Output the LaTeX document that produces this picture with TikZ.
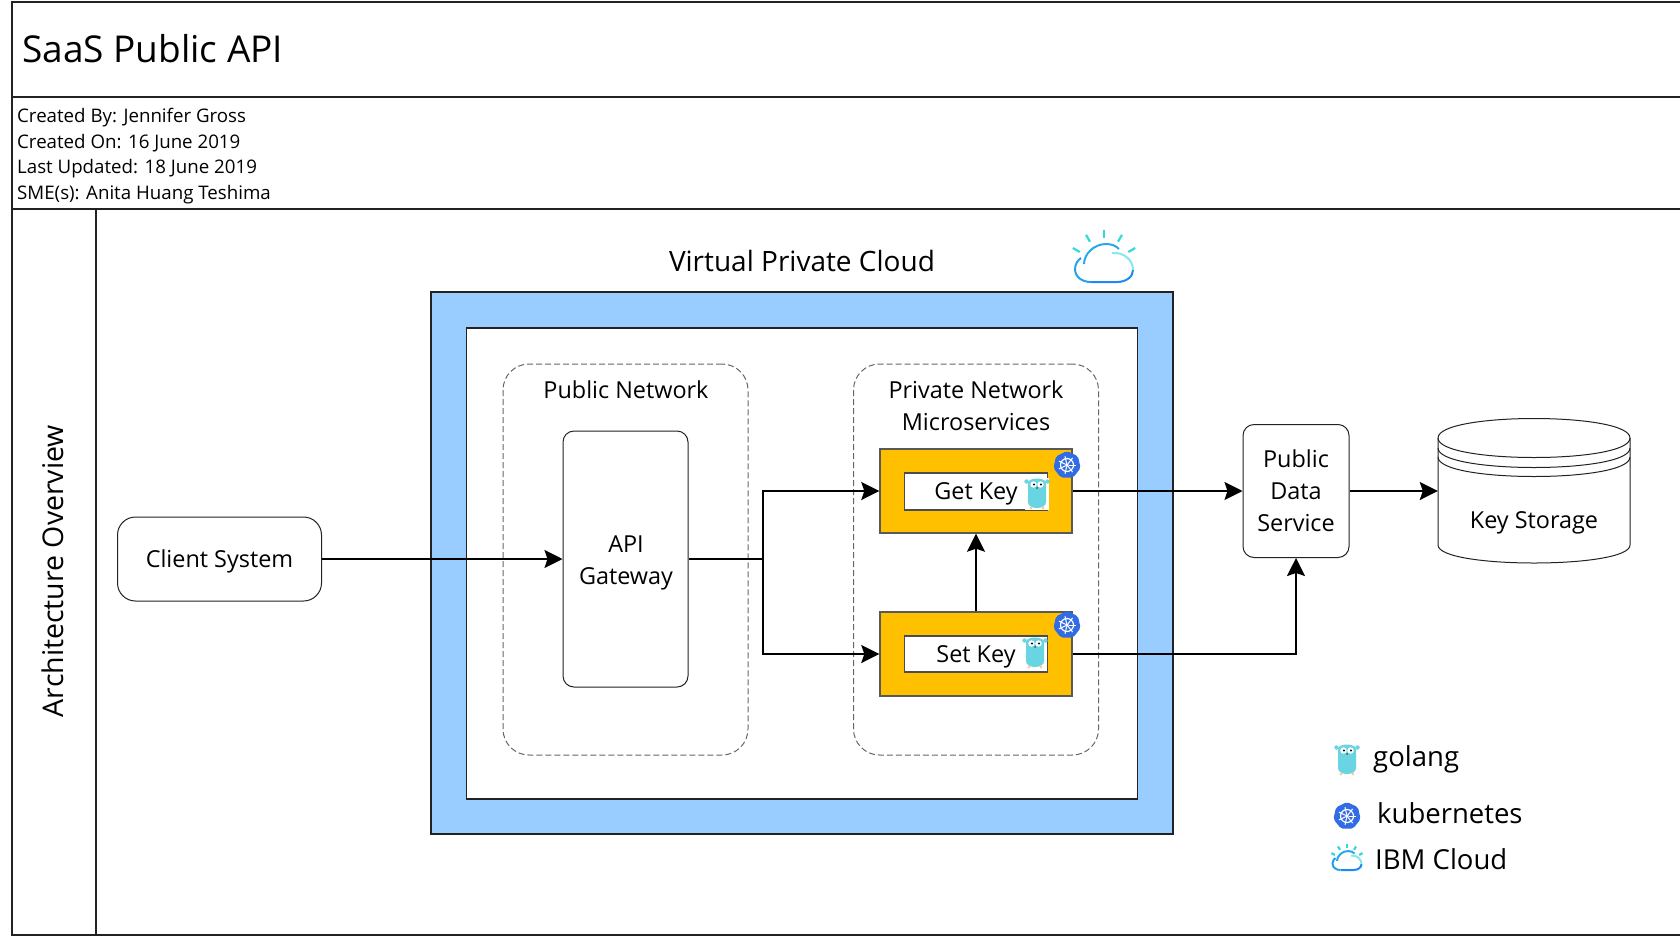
\documentclass[tikz,border=0pt]{standalone}
\usepackage{fontspec}
\setmainfont{Open Sans}
\usetikzlibrary{arrows.meta}

\definecolor{vpcblue}{HTML}{99CCFF}
\definecolor{svcorange}{HTML}{FFC000}
\definecolor{kubeblue}{HTML}{326CE5}
\definecolor{gocyan}{HTML}{69D4E2}
\definecolor{cloudblue}{HTML}{1E88F5}
\definecolor{cloudcyan}{HTML}{35D8DC}
\definecolor{lineblack}{HTML}{222222}

\tikzset{
	label18/.style={font=\fontsize{23.4}{32}\selectfont, align=center},
	roundbox/.style={draw=lineblack, line width=1pt, fill=white, rounded corners=#1, label18},
	netbox/.style={draw=black!60, dash pattern=on 6pt off 3pt, line width=1pt, rounded corners=26pt},
	svcbox/.style={draw=gray!70!black, line width=1.4pt, fill=svcorange},
	keybox/.style={draw=gray!60!black, line width=1.2pt, fill=white},
	conn/.style={line width=2pt, -{Stealth[length=18pt,width=18pt,inset=3pt]}},
	pics/gopher/.style={code={
		\fill[white] (-12,-16) rectangle (12,16);
		\fill[gocyan] (-9,-11) .. controls (-9,-17) and (9,-17) .. (9,-11) -- (9,8) .. controls (9,16) and (-9,16) .. (-9,8) -- cycle;
		\fill[gocyan] (-10.5,-12.5) circle (2.2);
		\fill[gocyan] (10.5,-12.5) circle (2.2);
		\fill[white] (-3.5,-9.5) circle (3.2);
		\fill[white] (3.5,-9.5) circle (3.2);
		\fill[black] (-3,-9.5) circle (1.2);
		\fill[black] (4,-9.5) circle (1.2);
		\fill[black!70] (0,-6) circle (1);
		\fill[orange!40] (-6,14) circle (1.6);
		\fill[orange!40] (6,14) circle (1.6);
	}},
	pics/kube/.style={code={
		\fill[kubeblue,rounded corners=2pt] (0,-14) -- (11,-8.7) -- (13.6,3.1) -- (6.1,12.6) -- (-6.1,12.6) -- (-13.6,3.1) -- (-11,-8.7) -- cycle;
		\draw[white,line width=1.2pt] (0,0) circle (6.5);
		\foreach \a in {0,51.4,...,309}
			\draw[white,line width=1pt] (\a:1.5) -- (\a:9);
		\fill[white] (0,0) circle (1.8);
	}},
	pics/ibmcloud/.style={code={
		% rays
		\foreach \a in {-150,-120,-90,-60,-30}
			\draw[cloudcyan,line width=2.2pt] (\a:28) -- (\a:36);
		% cloud outline
		\draw[cloudblue,line width=2pt] (-13,16) -- (13,16) .. controls (22,16) and (29,11) .. (29,4);
		\draw[cloudblue!70!cloudcyan,line width=2pt] (-13,16) .. controls (-22,16) and (-29,11) .. (-29,3) .. controls (-29,-2) and (-26,-6) .. (-23,-8);
		\draw[cloudblue!60!cloudcyan,line width=2pt] (-20,-2) .. controls (-20,-12) and (-10,-22) .. (2,-22) .. controls (8,-22) and (12,-20) .. (15,-17);
		\draw[cloudcyan!60!white,line width=2pt] (29,4) .. controls (29,-6) and (20,-14) .. (8,-13);
	}}
}

\begin{document}
\begin{tikzpicture}[x=1pt,y=-1pt]
\useasboundingbox (0,0) rectangle (1680,935);

% frame
\node[draw=lineblack, line width=2pt, minimum width=1669pt, minimum height=933pt, anchor=north west, inner sep=0] (frame) at (11,1) {};
\coordinate (titleleft) at (11,97);
\coordinate (titleright) at (1680,97);
\coordinate (infoleft) at (11,209);
\coordinate (inforight) at (1680,209);
\coordinate (coltop) at (95.5,209);
\coordinate (colbot) at (95.5,934);
\draw[lineblack, line width=2pt] (titleleft) -- (titleright);
\draw[lineblack, line width=2pt] (infoleft) -- (inforight);
\draw[lineblack, line width=2pt] (coltop) -- (colbot);

\node[anchor=west, inner sep=0, font=\fontsize{37}{44}\selectfont] (title) at (22,49) {SaaS Public API};

\foreach \y/\t/\n in {118/Created By: Jennifer Gross/a,143.5/Created On: 16 June 2019/b,169/Last Updated: 18 June 2019/c,195/SME(s): Anita Huang Teshima/d}
{
	\node[anchor=west, inner sep=0, font=\fontsize{18.7}{22}\selectfont] (info\n) at (17,\y) {\t};
}

\node[rotate=90, font=\fontsize{28.5}{34}\selectfont, inner sep=0] (archlabel) at (53,571) {Architecture Overview};

% cloud
\node[draw=lineblack, line width=1.6pt, fill=vpcblue, minimum width=742pt, minimum height=542pt, inner sep=0] (vpc) at (802,563) {};
\node[draw=lineblack, line width=1.6pt, fill=white, minimum width=671pt, minimum height=471pt, inner sep=0] (vpcinner) at (802,563.5) {};
\node[font=\fontsize{28}{34}\selectfont, inner sep=0] (vpclabel) at (802,261) {Virtual Private Cloud};
\pic at (1104,266) {ibmcloud};

% networks
\node[netbox, minimum width=245pt, minimum height=391pt] (pubnet) at (625.5,559.5) {};
\node[netbox, minimum width=245pt, minimum height=391pt] (privnet) at (976,559.5) {};
\node[label18, inner sep=0] (pubnetlabel) at (626,390) {Public Network};
\node[label18, inner sep=0] (privnetlabel) at (976,406) {Private Network\\Microservices};

\node[roundbox=11pt, minimum width=125pt, minimum height=256pt] (gateway) at (625.5,559) {};
\node[label18, inner sep=0] (gatewaylabel) at (626,562.5) {API\\Gateway};
\node[roundbox=18pt, minimum width=204pt, minimum height=84pt] (client) at (219.5,559) {};
\node[label18, inner sep=0] (clientlabel) at (219.5,561.5) {Client System};

% services
\node[svcbox, minimum width=192pt, minimum height=84pt] (getkey) at (976,491) {};
\node[svcbox, minimum width=192pt, minimum height=84pt] (setkey) at (976,654) {};
\node[keybox, minimum width=143pt, minimum height=37pt] (getkeyin) at (976,491.5) {};
\node[keybox, minimum width=143pt, minimum height=36pt] (setkeyin) at (976,654) {};
\node[label18, inner sep=0] (getkeylabel) at (976,494) {Get Key};
\node[label18, inner sep=0] (setkeylabel) at (976,657) {Set Key};
\pic at (1037,494) {gopher};
\pic at (1035,653) {gopher};
\pic at (1067,465) {kube};
\pic at (1067,625) {kube};

\node[roundbox=11pt, minimum width=106pt, minimum height=133pt] (datasvc) at (1296,491) {Public\\Data\\Service};

% storage
\node[minimum width=192pt, minimum height=144pt, inner sep=0] (storage) at (1534,491) {};
\draw[lineblack, line width=1pt] (1438,438) .. controls (1438,412) and (1630,412) .. (1630,438) -- (1630,545) .. controls (1630,569) and (1438,569) .. (1438,545) -- cycle;
\draw[lineblack, line width=1pt] (1438,438) .. controls (1438,464) and (1630,464) .. (1630,438);
\draw[lineblack, line width=1pt] (1438,448) .. controls (1438,474) and (1630,474) .. (1630,448);
\draw[lineblack, line width=1pt] (1438,457) .. controls (1438,483) and (1630,483) .. (1630,457);
\node[label18, inner sep=0] (storagelabel) at (1534,523) {Key Storage};

% connectors
\coordinate (gwsplit) at (763,559);
\draw[conn] (client.east) -- (gateway.west);
\draw[line width=2pt] (gateway.east) -- (gwsplit);
\draw[conn] (gwsplit) |- (getkey.west);
\draw[conn] (gwsplit) |- (setkey.west);
\draw[conn] (setkey.north) -- (getkey.south);
\draw[conn] (getkey.east) -- (datasvc.west);
\draw[conn] (setkey.east) -| (datasvc.south);
\draw[conn] (datasvc.east) -- (storage.west);

% legend
\pic at (1347,760) {gopher};
\pic at (1347,816) {kube};
\pic[scale=0.5] at (1347,862) {ibmcloud};
\foreach \x/\y/\t/\n in {1373/759/golang/a,1377/813/kubernetes/b,1375/859/IBM Cloud/c}
{
	\node[anchor=west, inner sep=0, font=\fontsize{27.5}{33}\selectfont] (legend\n) at (\x,\y) {\t};
}
\end{tikzpicture}
\end{document}
